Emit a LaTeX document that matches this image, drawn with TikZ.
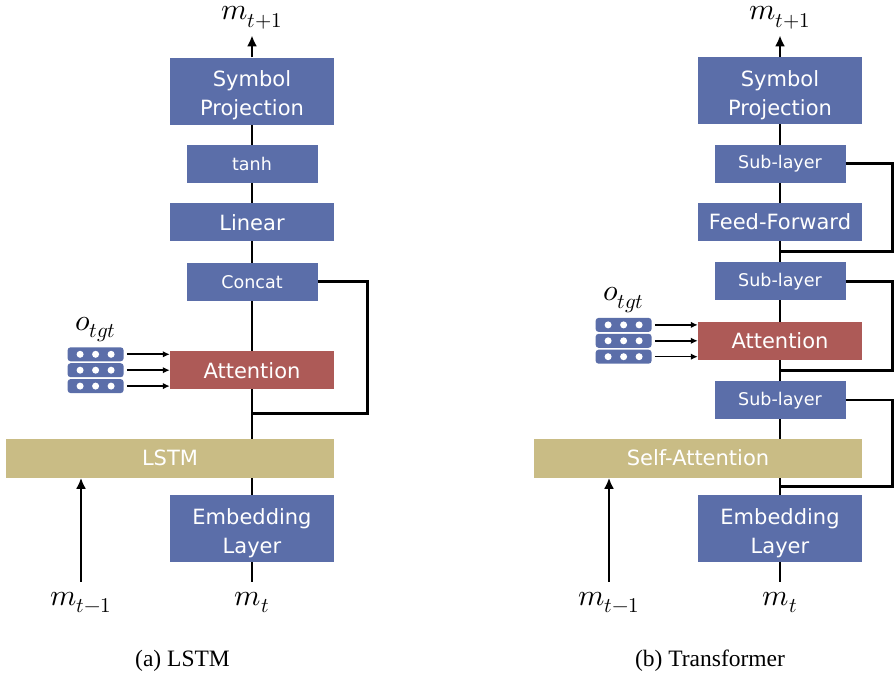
\documentclass[tikz,border=0pt]{standalone}
\usepackage{fontspec}
\usepackage{unicode-math}
\setmainfont{Liberation Serif}
\setmathfont{Latin Modern Math}
\newfontfamily\boxfont{DejaVu Sans}
\usetikzlibrary{arrows.meta,positioning,backgrounds}
\definecolor{layerblue}{HTML}{5B6EA9}
\definecolor{attnred}{HTML}{AD5A57}
\definecolor{rnntan}{HTML}{C9BC85}

\begin{document}
\begin{tikzpicture}[x=1pt, y=1pt,
  layer/.style={fill=layerblue, text=white, inner sep=0pt, minimum width=164pt,
    minimum height=38pt, align=center, font=\boxfont\fontsize{21}{29}\selectfont},
  small/.style={layer, minimum width=131pt, font=\boxfont\fontsize{17.5}{22}\selectfont},
  tall/.style={layer, minimum height=67pt, text height=49pt, text depth=0pt},
  attn/.style={layer, fill=attnred},
  rnn/.style={layer, fill=rnntan, minimum width=328pt, minimum height=39pt},
  vec/.style={fill=layerblue, rounded corners=3pt, minimum width=56pt, minimum height=14pt, inner sep=0pt},
  var/.style={inner sep=0pt, font=\fontsize{30}{36}\selectfont},
  caption/.style={inner sep=0pt, font=\fontsize{23.5}{28}\selectfont},
  wire/.style={line width=2.6pt},
  arr/.style={wire, -{Latex[length=11pt,width=10pt]}},
  feed/.style={line width=1.6pt, -{Latex[length=7pt,width=6.5pt]}}]
\useasboundingbox (0,0) rectangle (896,672);

% (a) LSTM
\node[tall] (emb) at (252,143.5) {Embedding\\Layer};
\node[rnn, above=17pt of emb.north east, anchor=south east] (lstm) {LSTM};
\node[attn, above=49pt of lstm.north east, anchor=south east] (att) {Attention};
\node[small, above=50pt of att] (cat) {Concat};
\node[layer, above=21pt of cat] (lin) {Linear};
\node[small, above=20pt of lin] (tanh) {tanh};
\node[tall, above=20pt of tanh] (proj) {Symbol\\Projection};

\node[var, anchor=base] (out) at (252,652) {$m_{t+1}$};
\node[var, anchor=base] (cur) at (252,67) {$m_t$};
\node[var, anchor=base] (prev) at (81,67) {$m_{t-1}$};

\node[vec, left=46pt of att] (src2) {};
\node[vec, above=1.5pt of src2] (src1) {};
\node[vec, below=1.5pt of src2] (src3) {};
\node[var, above=5pt of src1] (tgt) {$o_{tgt}$};
\foreach \r in {1,2,3} {
  \foreach \dx in {-15.5,0,15.5}
    \fill[white] (src\r) ++(\dx,0) circle (3.5);
  \draw[feed, shorten <=3pt] (src\r) -- (src\r -| att.west);
}

\begin{scope}[on background layer]
  \draw[wire] (emb.north) -- (proj.south);
\end{scope}
\coordinate[below=24pt of att] (j1);
\draw[wire] (cat.east) -- ++(49.5,0) |- (j1);
\draw[arr, shorten >=6pt] (proj) -- (out);
\draw[wire, shorten >=10pt] (emb) -- (cur);
\draw[arr, shorten <=10pt] (prev) -- (prev |- lstm.south);

\node[caption, anchor=base] (capa) at (182.5,6) {(a) LSTM};

% (b) Transformer
\node[tall] (emb2) at (780,143.5) {Embedding\\Layer};
\node[rnn, above=17pt of emb2.north east, anchor=south east] (sa) {Self-Attention};
\coordinate (sa top) at (sa.north -| emb2);
\node[small, above=19pt of sa top] (sub1) {Sub-layer};
\node[attn, above=21pt of sub1] (att2) {Attention};
\node[small, above=21pt of att2] (sub2) {Sub-layer};
\node[layer, above=21pt of sub2] (ff) {Feed-Forward};
\node[small, above=20pt of ff] (sub3) {Sub-layer};
\node[tall, above=20pt of sub3] (proj2) {Symbol\\Projection};

\node[var, anchor=base] (out2) at (780,652) {$m_{t+1}$};
\node[var, anchor=base] (cur2) at (780,67) {$m_t$};
\node[var, anchor=base] (prev2) at (609,67) {$m_{t-1}$};

\node[vec, left=46pt of att2] (tsrc2) {};
\node[vec, above=1.5pt of tsrc2] (tsrc1) {};
\node[vec, below=1.5pt of tsrc2] (tsrc3) {};
\node[var, above=5pt of tsrc1] (tgt2) {$o_{tgt}$};
\foreach \r in {1,2,3} {
  \foreach \dx in {-15.5,0,15.5}
    \fill[white] (tsrc\r) ++(\dx,0) circle (3.5);
  \draw[feed, shorten <=3pt] (tsrc\r) -- (tsrc\r -| att2.west);
}

\begin{scope}[on background layer]
  \draw[wire] (emb2.north) -- (proj2.south);
\end{scope}
\coordinate[above=8pt of emb2] (j2);
\coordinate[below=10.5pt of att2] (j3);
\coordinate[below=10.5pt of ff] (j4);
\draw[wire] (sub1.east) -- ++(47,0) |- (j2);
\draw[wire] (sub2.east) -- ++(47,0) |- (j3);
\draw[wire] (sub3.east) -- ++(47,0) |- (j4);
\draw[arr, shorten >=6pt] (proj2) -- (out2);
\draw[wire, shorten >=10pt] (emb2) -- (cur2);
\draw[arr, shorten <=10pt] (prev2) -- (prev2 |- sa.south);

\node[caption, anchor=base] (capb) at (710,6) {(b) Transformer};
\end{tikzpicture}
\end{document}
